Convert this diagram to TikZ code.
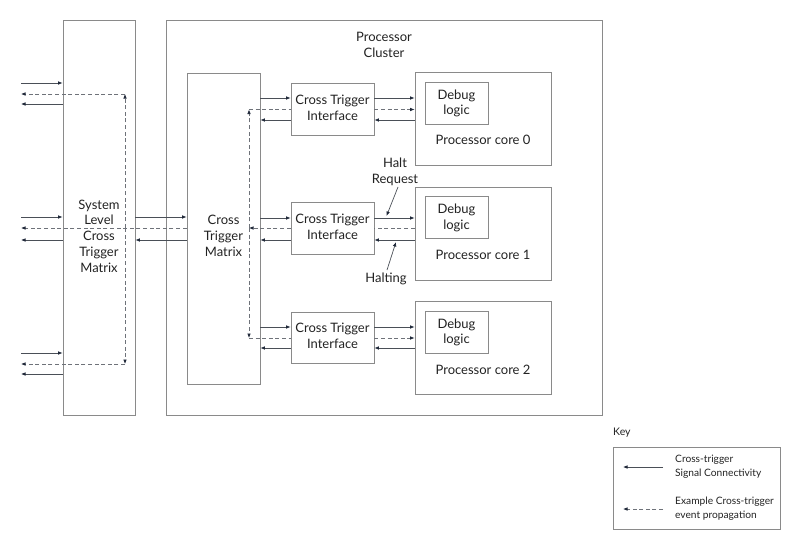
\documentclass[tikz,border=0pt]{standalone}
\usepackage{fontspec}
\setmainfont{Lato}
\usetikzlibrary{arrows.meta,calc}
\definecolor{boxc}{HTML}{8A8A8A}
\definecolor{linec}{HTML}{4A4F57}
\definecolor{tipc}{HTML}{1E2738}
\definecolor{txt}{HTML}{222222}
\begin{document}
\begin{tikzpicture}[x=1pt,y=-1pt,
  box/.style={draw=boxc,line width=0.8pt,inner sep=0pt,rectangle},
  lbl/.style={text=txt,align=center,inner sep=0pt,font=\fontsize{13}{15.7}\selectfont},
  klbl/.style={text=txt,align=left,anchor=west,inner sep=0pt,font=\fontsize{10.2}{14}\selectfont},
  sig/.style={draw=linec,line width=0.7pt,-{Latex[length=4.5pt,width=3.6pt,color=tipc]}},
  evt/.style={draw=linec!80,line width=0.7pt,dash pattern=on 4pt off 2.6pt,-{Latex[length=4.5pt,width=3.6pt,color=tipc]}},
  evtn/.style={draw=linec!80,line width=0.7pt,dash pattern=on 4pt off 2.6pt}]
\useasboundingbox (0,0) rectangle (800,551);
% boxes
\node[box,minimum width=72pt,minimum height=395pt] (slctm) at (99,217.5) {};
\node[box,minimum width=436pt,minimum height=395pt] (pc) at (384,217.5) {};
\node[box,minimum width=73pt,minimum height=311pt] (ctm) at (223.5,228.5) {};
\node[box,minimum width=83pt,minimum height=52pt] (cti0) at (332.5,109) {};
\node[box,minimum width=83pt,minimum height=52pt] (cti1) at (332.5,228) {};
\node[box,minimum width=83pt,minimum height=51pt] (cti2) at (332.5,337.5) {};
\node[box,minimum width=136pt,minimum height=93pt] (core0) at (483,118.5) {};
\node[box,minimum width=136pt,minimum height=93pt] (core1) at (483,233.5) {};
\node[box,minimum width=136pt,minimum height=93pt] (core2) at (483,347.5) {};
\node[box,minimum width=63pt,minimum height=42pt] (dbg0) at (456.5,103) {};
\node[box,minimum width=63pt,minimum height=42pt] (dbg1) at (456.5,217.5) {};
\node[box,minimum width=63pt,minimum height=42pt] (dbg2) at (456.5,332) {};
\node[box,minimum width=167pt,minimum height=82pt] (key) at (696.5,488) {};
% labels
\node[lbl] (tslctm) at (99,236) {System\\Level\\Cross\\Trigger\\Matrix};
\node[lbl] (tpc) at (384,45) {Processor\\Cluster};
\node[lbl] (tctm) at (223.5,236) {Cross\\Trigger\\Matrix};
\node[lbl] (tcti0) at (332.5,107.5) {Cross Trigger\\Interface};
\node[lbl] (tcti1) at (332.5,227) {Cross Trigger\\Interface};
\node[lbl] (tcti2) at (332.5,336) {Cross Trigger\\Interface};
\node[lbl] (tdbg0) at (456.5,103.5) {Debug\\logic};
\node[lbl] (tdbg1) at (456.5,218) {Debug\\logic};
\node[lbl] (tdbg2) at (456.5,332.5) {Debug\\logic};
\node[lbl] (tcore0) at (483,140) {Processor core 0};
\node[lbl] (tcore1) at (483,255) {Processor core 1};
\node[lbl] (tcore2) at (483,370) {Processor core 2};
\node[lbl] (thr) at (395,172) {Halt\\Request};
\node[lbl] (thl) at (386,279) {Halting};
\node[klbl,font=\fontsize{10.5}{13}\selectfont] (tkey) at (613,433) {Key};
\node[klbl] (tk1) at (675,467) {Cross-trigger\\Signal Connectivity};
\node[klbl] (tk2) at (675,509) {Example Cross-trigger\\event propagation};
% free ends
\coordinate (L) at (21,0);
\coordinate (slv) at (125,0);
\coordinate (cv) at (249,0);
% left side solid
\draw[sig] (L |- 0,83) -- (slctm.west |- 0,83);
\draw[sig] (slctm.west |- 0,104) -- (L |- 0,104);
\draw[sig] (L |- 0,217) -- (slctm.west |- 0,217);
\draw[sig] (slctm.west |- 0,240) -- (L |- 0,240);
\draw[sig] (L |- 0,353) -- (slctm.west |- 0,353);
\draw[sig] (slctm.west |- 0,374) -- (L |- 0,374);
% SLCTM <-> CTM
\draw[sig] (slctm.east |- 0,217) -- (ctm.west |- 0,217);
\draw[sig] (ctm.west |- 0,240) -- (slctm.east |- 0,240);
% CTM <-> CTI, CTI <-> cores
\foreach \i/\ya/\yb in {0/98/120,1/218/240,2/327/348}{
  \draw[sig] (ctm.east |- 0,\ya) -- (cti\i.west |- 0,\ya);
  \draw[sig] (cti\i.west |- 0,\yb) -- (ctm.east |- 0,\yb);
  \draw[sig] (cti\i.east |- 0,\ya) -- (core\i.west |- 0,\ya);
  \draw[sig] (core\i.west |- 0,\yb) -- (cti\i.east |- 0,\yb);
}
% event propagation (dashed)
\draw[evtn] (core1.west |- 0,228) -- (cti1.east |- 0,228);
\draw[evt] (cti1.west |- 0,228) -- (cv |- 0,228);
\draw[evt] (cv |- 0,228) -- (cv |- 0,109.5);
\draw[evt] (cv |- 0,228) -- (cv |- 0,338);
\draw[evtn] (cv |- 0,109.5) -- (cti0.west |- 0,109.5);
\draw[evt] (cti0.east |- 0,109.5) -- (core0.west |- 0,109.5);
\draw[evtn] (cv |- 0,338) -- (cti2.west |- 0,338);
\draw[evt] (cti2.east |- 0,338) -- (core2.west |- 0,338);
\draw[evt] (ctm.west |- 0,228) -- (L |- 0,228);
\draw[evt] (slv |- 0,228) -- (slv |- 0,94);
\draw[evt] (slv |- 0,228) -- (slv |- 0,364);
\draw[evt] (slv |- 0,94) -- (L |- 0,94);
\draw[evt] (slv |- 0,364) -- (L |- 0,364);
% halt annotations
\coordinate (hrs) at (398,187);
\coordinate (hre) at (386.5,216);
\coordinate (hls) at (387,270);
\coordinate (hle) at (396,242);
\draw[sig] (hrs) -- (hre);
\draw[sig] (hls) -- (hle);
% key
\coordinate (k1s) at (663,467);
\coordinate (k1e) at (623,467);
\coordinate (k2s) at (663,509);
\coordinate (k2e) at (623,509);
\draw[sig] (k1s) -- (k1e);
\draw[evt] (k2s) -- (k2e);
\end{tikzpicture}
\end{document}
